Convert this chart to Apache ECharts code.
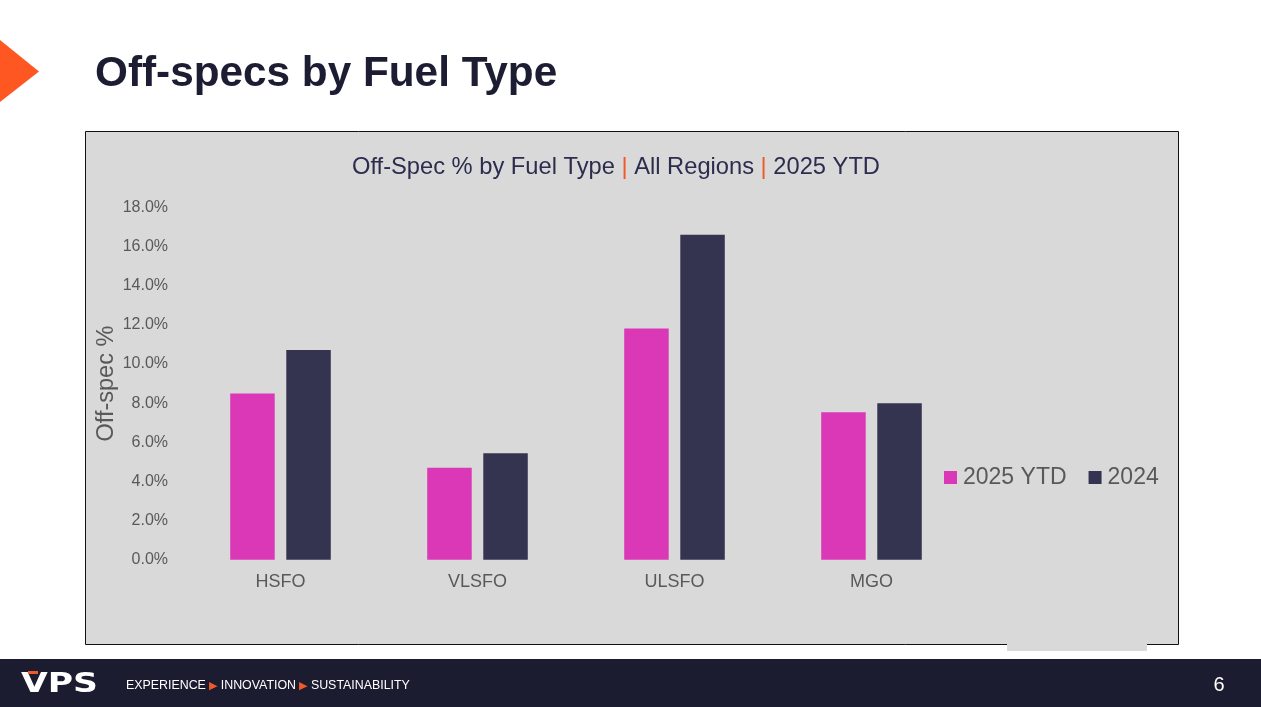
<!DOCTYPE html>
<html>
<head>
<meta charset="utf-8">
<title>Off-specs by Fuel Type</title>
<script src="https://cdn.jsdelivr.net/npm/echarts@6/dist/echarts.min.js"></script>
<style>
  html, body { margin: 0; padding: 0; background: #ffffff; }
  #offspec_fuel { width: 1261px; height: 707px; }
</style>
</head>
<body>
<div id="offspec_fuel"></div>
<script>
// Off-spec % by fuel type
var fuelTypes = ['HSFO', 'VLSFO', 'ULSFO', 'MGO'];
var offSpec2025 = [8.50, 4.70, 11.82, 7.53];
var offSpec2024 = [10.72, 5.44, 16.61, 7.99];
var seriesNames = ['2025 YTD', '2024'];

var dom = document.getElementById("offspec_fuel");
var myChart_offspec = echarts.init(dom);

var option;

var pink = '#db38b7';
var navy = '#353450';
var orange = '#f05a28';
var grey = '#595959';

option = {
    backgroundColor: '#ffffff',
    textStyle: { fontFamily: 'Liberation Sans, Arial, sans-serif' },
    color: [pink, navy],
    graphic: [
        // slide chrome
        { type: 'polygon', z: 0, shape: { points: [[0, 40], [39, 71.5], [0, 102]] }, style: { fill: '#ff5722' } },
        { type: 'text', z: 0, left: 95, top: 53, style: { text: 'Off-specs by Fuel Type', font: 'bold 42.3px "Liberation Sans", Arial, sans-serif', fill: '#1c1c33' } },
        { type: 'rect', z: 0, shape: { x: 85.5, y: 131.5, width: 1093, height: 513 }, style: { fill: '#d9d9d9', stroke: '#111111', lineWidth: 1 } },
        { type: 'rect', z: 0, shape: { x: 1007, y: 644, width: 140, height: 7 }, style: { fill: '#d9d9d9' } },
        { type: 'rect', z: 0, shape: { x: 0, y: 659, width: 1261, height: 48 }, style: { fill: '#1c1c30' } },
        { type: 'text', z: 1, x: 21, y: 685, scaleX: 1.33, style: { text: 'VPS', font: 'bold 26px "DejaVu Sans", sans-serif', fill: '#ffffff', verticalAlign: 'middle' } },
        { type: 'rect', z: 2, shape: { x: 28, y: 671, width: 10, height: 3 }, style: { fill: '#f05a28' } },
        { type: 'text', z: 1, x: 126, y: 686, style: {
            text: 'EXPERIENCE {a|▶} INNOVATION {a|▶} SUSTAINABILITY',
            font: '12.4px "Liberation Sans", Arial, sans-serif', fill: '#ffffff', verticalAlign: 'middle',
            rich: { a: { fill: '#f05a28', fontSize: 11 } }
        } },
        { type: 'text', z: 1, x: 1219, y: 685, style: { text: '6', font: '20px "Liberation Sans", Arial, sans-serif', fill: '#ffffff', align: 'center', verticalAlign: 'middle' } }
    ],
    title: {
        text: 'Off-Spec % by Fuel Type {p||} All Regions {p||} 2025 YTD',
        left: 347,
        top: 150,
        textStyle: {
            fontSize: 23.7,
            fontWeight: 'normal',
            color: '#2c2c4e',
            rich: { p: { fontSize: 23.7, color: orange } }
        }
    },
    legend: {
        data: seriesNames,
        left: 944,
        top: 466,
        padding: 0,
        itemWidth: 13,
        itemHeight: 13,
        itemGap: 22,
        icon: 'rect',
        textStyle: { fontSize: 23, color: grey, padding: [0, 0, 0, 1] }
    },
    grid: {
        left: 182,
        right: 291,
        top: 207.5,
        bottom: 147.3
    },
    xAxis: {
        type: 'category',
        data: fuelTypes,
        axisLine: { show: false },
        axisTick: { show: false },
        axisLabel: { fontSize: 18, color: grey, margin: 13 }
    },
    yAxis: {
        type: 'value',
        min: 0,
        max: 18,
        interval: 2,
        name: 'Off-spec %',
        nameLocation: 'middle',
        nameRotate: 90,
        nameGap: 63,
        nameMoveOverlap: false,
        nameTextStyle: { fontSize: 23.5, color: grey },
        splitLine: { show: false },
        axisLine: { show: false },
        axisTick: { show: false },
        axisLabel: {
            fontSize: 16,
            color: grey,
            margin: 14,
            formatter: function (v) { return v.toFixed(1) + '%'; }
        }
    },
    series: [
        {
            name: seriesNames[0],
            type: 'bar',
            data: offSpec2025,
            barWidth: 44.5,
            barGap: '26%',
            z: 3
        },
        {
            name: seriesNames[1],
            type: 'bar',
            data: offSpec2024,
            barWidth: 44.5,
            barGap: '26%',
            z: 3
        }
    ]
};

if (option && typeof option === 'object') {
    myChart_offspec.setOption(option);
}
</script>
</body>
</html>
